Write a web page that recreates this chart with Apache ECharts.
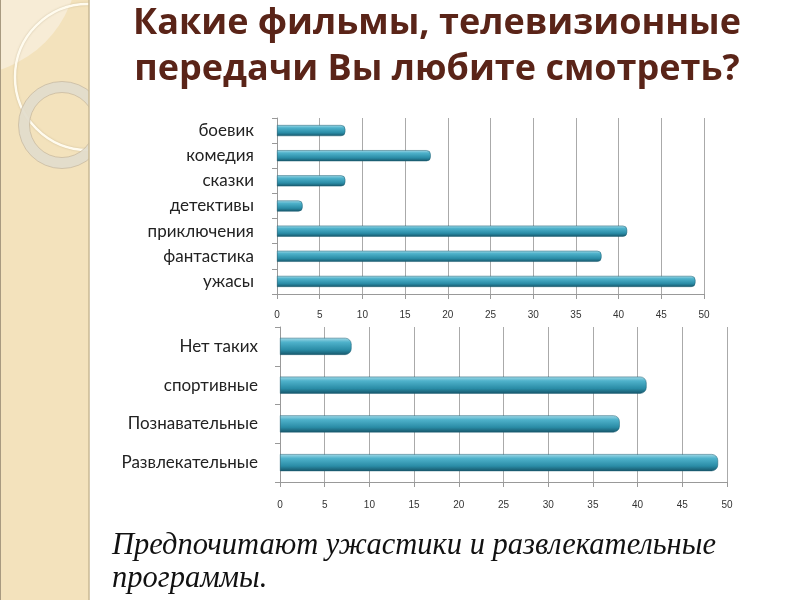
<!DOCTYPE html>
<html>
<head>
<meta charset="utf-8">
<script src="https://cdn.jsdelivr.net/npm/echarts@6/dist/echarts.min.js"></script>
<style>html,body{margin:0;padding:0;background:#fff;}#c{width:800px;height:600px;}</style>
</head>
<body>
<div id="c"></div>
<script>
const filmCategories = ['боевик', 'комедия', 'сказки', 'детективы', 'приключения', 'фантастика', 'ужасы'];
const filmValues = [8, 18, 8, 3, 41, 38, 49];
const tvCategories = ['Нет таких', 'спортивные', 'Познавательные', 'Развлекательные'];
const tvValues = [8, 41, 38, 49];
const xTicks = [0, 5, 10, 15, 20, 25, 30, 35, 40, 45, 50];

const chart = echarts.init(document.getElementById('c'));
const barColor = new echarts.graphic.LinearGradient(0, 0, 0, 1, [
  {offset: 0, color: '#a3dae8'},
  {offset: 0.25, color: '#4fb2cb'},
  {offset: 0.7, color: '#2a8ca6'},
  {offset: 1, color: '#17566a'}
]);
function xAx(gi, margin) {
  return {
    type: 'value', gridIndex: gi, min: xTicks[0], max: xTicks[xTicks.length - 1], interval: 5,
    axisLine: {show: true, lineStyle: {color: '#999'}},
    axisTick: {show: true, lineStyle: {color: '#999'}},
    splitLine: {show: true, lineStyle: {color: '#aaa', width: 1}},
    axisLabel: {color: '#333', fontSize: 10, fontFamily: 'Liberation Sans Narrow, Liberation Sans, sans-serif', margin: margin}
  };
}
function yAx(gi, cats, fs, margin) {
  return {
    type: 'category', gridIndex: gi, data: cats, inverse: true,
    axisLine: {show: true, lineStyle: {color: '#999'}},
    axisTick: {show: true, length: 5, lineStyle: {color: '#999'}},
    axisLabel: {color: '#222', fontSize: fs, fontFamily: 'Lato, sans-serif', margin: margin, padding: [5, 0, 0, 0]}
  };
}
const option = {
  backgroundColor: '#fff',
  animation: false,
  title: {
    text: 'Какие фильмы, телевизионные\nпередачи Вы любите смотреть?',
    left: 432, top: -4, textAlign: 'center',
    textStyle: {color: '#5a2418', fontSize: 36, fontWeight: 'bold', fontFamily: '"Open Sans", sans-serif', lineHeight: 46}
  },
  graphic: [
    {type: 'rect', z: -10, shape: {x: 0, y: 0, width: 89, height: 600}, style: {fill: '#f3e2bc'}},
    {type: 'circle', z: -9, shape: {cx: -34, cy: -37, r: 112}, style: {fill: '#f7ecd6'}},
    {type: 'circle', z: -9, shape: {cx: 88, cy: 77, r: 73}, style: {fill: 'none', stroke: '#fffbee', lineWidth: 2.5, shadowBlur: 2, shadowColor: 'rgba(150,130,90,0.4)'}},
    {type: 'circle', z: -9, shape: {cx: 62, cy: 125, r: 38}, style: {fill: 'none', stroke: 'rgba(226,220,204,0.92)', lineWidth: 11}},
    {type: 'circle', z: -9, shape: {cx: 62, cy: 125, r: 43.5}, style: {fill: 'none', stroke: 'rgba(190,175,150,0.6)', lineWidth: 1}},
    {type: 'circle', z: -9, shape: {cx: 62, cy: 125, r: 32.5}, style: {fill: 'none', stroke: 'rgba(190,175,150,0.6)', lineWidth: 1}},
    {type: 'rect', z: -8, shape: {x: 89, y: 0, width: 711, height: 600}, style: {fill: '#fff'}},
    {type: 'line', z: -7, shape: {x1: 89, y1: 0, x2: 89, y2: 600}, style: {stroke: '#c8b894', lineWidth: 1.5}},
    {type: 'line', z: -7, shape: {x1: 0.5, y1: 0, x2: 0.5, y2: 600}, style: {stroke: '#a89a80', lineWidth: 1}},
    {type: 'text', left: 112, top: 529, style: {text: 'Предпочитают ужастики и развлекательные\nпрограммы.', fill: '#111', font: 'italic 30.5px "Liberation Serif", serif', lineHeight: 33}}
  ],
  grid: [
    {left: 277, right: 96, top: 118, height: 176},
    {left: 280, right: 73, top: 327, height: 155}
  ],
  xAxis: [xAx(0, 16), xAx(1, 18)],
  yAxis: [yAx(0, filmCategories, 17, 23), yAx(1, tvCategories, 17, 22)],
  series: [
    {type: 'bar', xAxisIndex: 0, yAxisIndex: 0, data: filmValues, barWidth: 11,
     itemStyle: {color: barColor, borderRadius: [0, 4, 4, 0], borderColor: '#1b5c70', borderWidth: 0.5}},
    {type: 'bar', xAxisIndex: 1, yAxisIndex: 1, data: tvValues, barWidth: 17,
     itemStyle: {color: barColor, borderRadius: [0, 6, 6, 0], borderColor: '#1b5c70', borderWidth: 0.5}}
  ]
};
chart.setOption(option);
</script>
</body>
</html>
